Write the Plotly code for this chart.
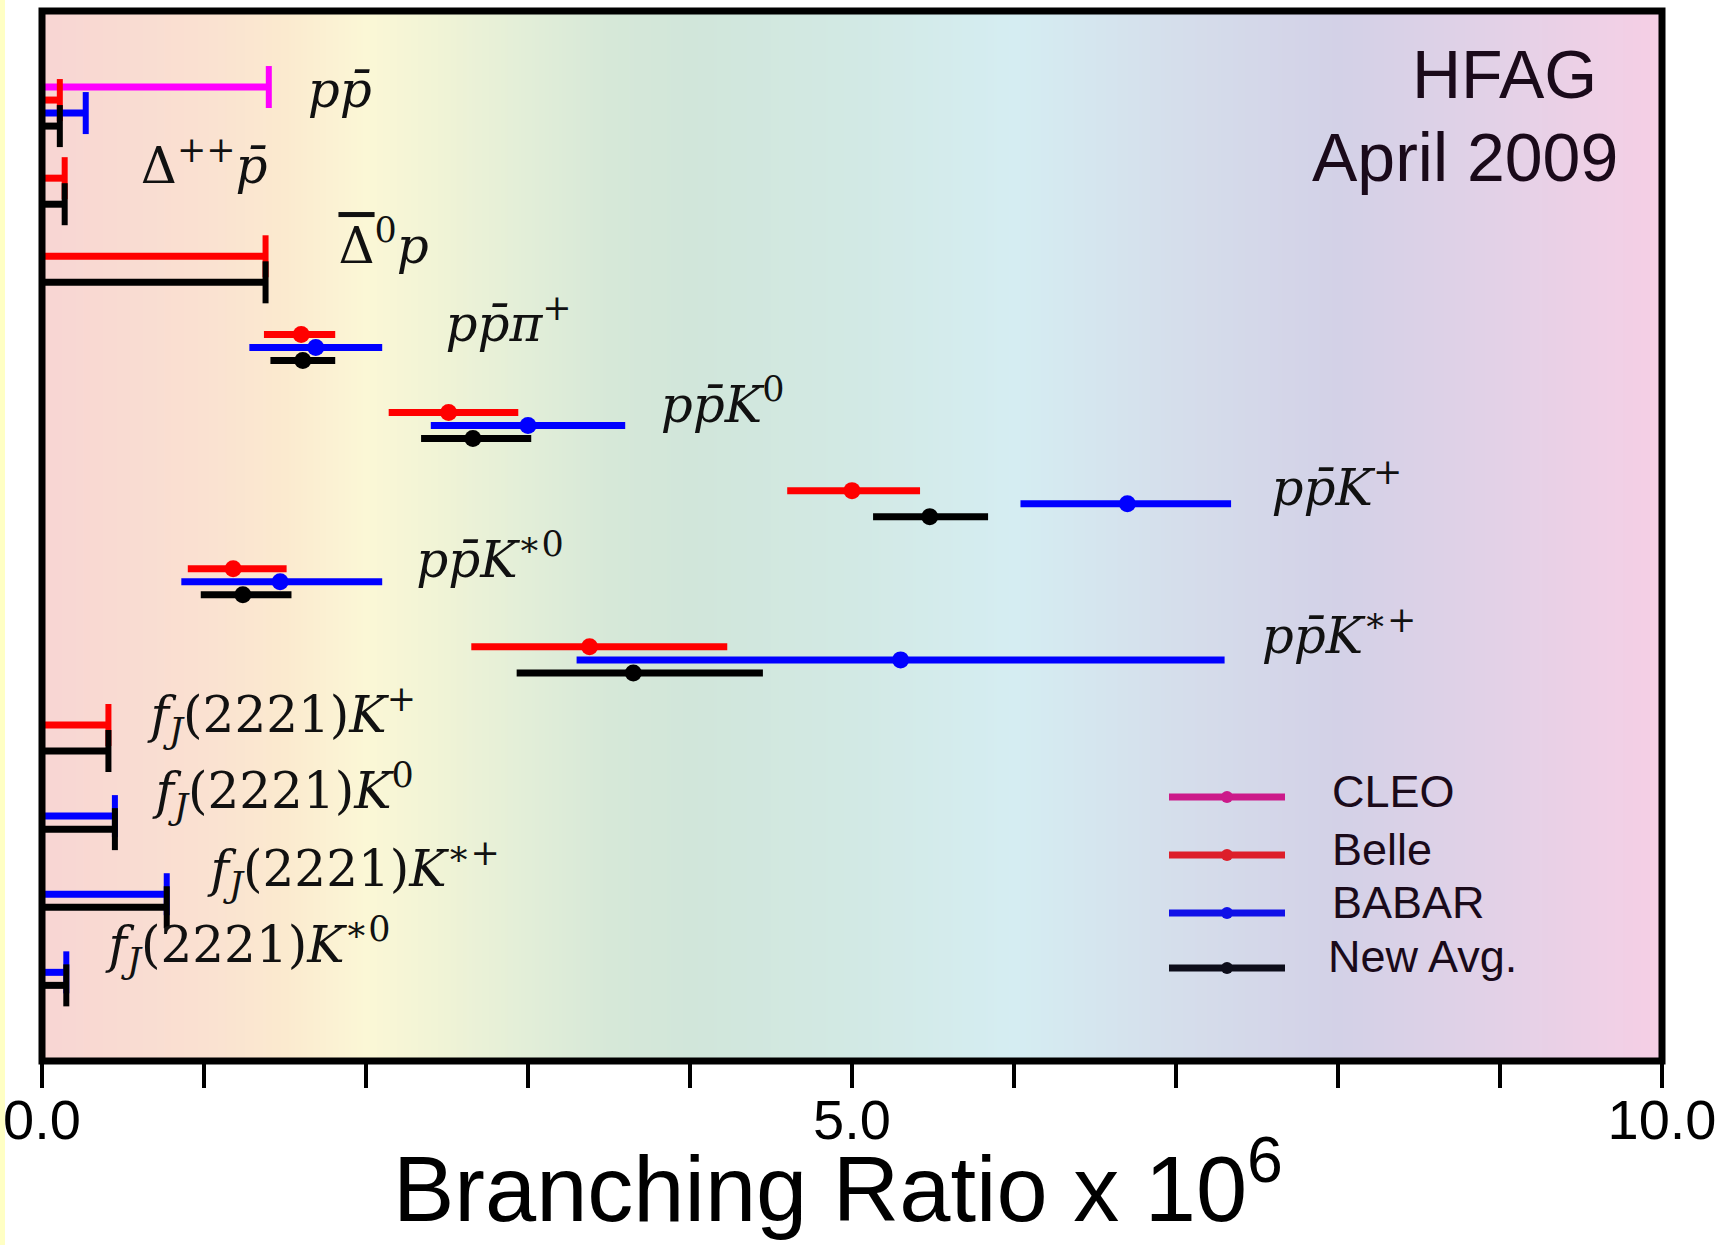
import numpy as np
import plotly.graph_objects as go

# ---------------------------------------------------------------- data
PBAR = "p\u0304"
DELTA_BAR = '<span style="text-decoration:overline">Δ</span>'
decay_labels = [
    f"<i>p{PBAR}</i>",
    f"Δ<sup>++</sup><i>{PBAR}</i>",
    f"{DELTA_BAR}<sup>0</sup><i>p</i>",
    f"<i>p{PBAR}π</i><sup>+</sup>",
    f"<i>p{PBAR}K</i><sup>0</sup>",
    f"<i>p{PBAR}K</i><sup>+</sup>",
    f"<i>p{PBAR}K</i><sup>∗0</sup>",
    f"<i>p{PBAR}K</i><sup>∗+</sup>",
    "<i>f</i><sub><i>J</i></sub>(2221)<i>K</i><sup>+</sup>",
    "<i>f</i><sub><i>J</i></sub>(2221)<i>K</i><sup>0</sup>",
    "<i>f</i><sub><i>J</i></sub>(2221)<i>K</i><sup>∗+</sup>",
    "<i>f</i><sub><i>J</i></sub>(2221)<i>K</i><sup>∗0</sup>",
]

experiments = ["CLEO", "Belle", "BABAR", "New Avg."]

# upper limits (x 10^-6), None where no limit is quoted
cleo_limit = [1.40, None, None, None, None, None, None, None, None, None, None, None]
belle_limit = [0.11, 0.14, 1.38, None, None, None, None, None, 0.41, None, None, None]
babar_limit = [0.27, None, None, None, None, None, None, None, None, 0.45, 0.77, 0.15]
avg_limit = [0.11, 0.14, 1.38, None, None, None, None, None, 0.41, 0.45, 0.77, 0.15]

# measurements (x 10^-6) with asymmetric total errors
belle_value = [None, None, None, 1.60, 2.51, 5.00, 1.18, 3.38, None, None, None, None]
belle_err_lo = [None, None, None, 0.23, 0.37, 0.40, 0.28, 0.73, None, None, None, None]
belle_err_hi = [None, None, None, 0.21, 0.43, 0.42, 0.33, 0.85, None, None, None, None]

babar_value = [None, None, None, 1.69, 3.00, 6.70, 1.47, 5.30, None, None, None, None]
babar_err_lo = [None, None, None, 0.41, 0.60, 0.66, 0.61, 2.00, None, None, None, None]
babar_err_hi = [None, None, None, 0.41, 0.60, 0.64, 0.63, 2.00, None, None, None, None]

avg_value = [None, None, None, 1.61, 2.66, 5.48, 1.24, 3.65, None, None, None, None]
avg_err_lo = [None, None, None, 0.20, 0.32, 0.35, 0.26, 0.72, None, None, None, None]
avg_err_hi = [None, None, None, 0.20, 0.36, 0.36, 0.30, 0.80, None, None, None, None]

x_tick_values = [0, 1, 2, 3, 4, 5, 6, 7, 8, 9, 10]
x_tick_text = ["0.0", "", "", "", "", "5.0", "", "", "", "", "10.0"]

# ---------------------------------------------------------------- placement / style
SLOTS_PER_DECAY = 6          # CLEO, Belle, BABAR, Avg + spacing rows
Y_RANGE = [74.81, -5.84]
label_x = [1.64, 0.61, 1.83, 2.49, 3.82, 7.59, 2.31, 7.53, 0.67, 0.70, 1.04, 0.41]
label_slot = [0.58, 6.42, 12.56, 18.55, 24.77, 31.15, 36.68, 42.52, 48.58, 54.42, 60.41, 66.25]

plot_colors = ["#FF00FF", "#FF0000", "#0000FF", "#000000"]
key_colors = ["#CC1A8A", "#DD1E2A", "#1010E8", "#0D0D1A"]
BAR_W = 7
LABEL_FONT = dict(family="DejaVu Serif", size=50, color="#111111")
SANS = "Liberation Sans"

W, H = 1736, 1245
M_L, M_R, M_T, M_B = 42, 74, 11, 184
PW, PH = W - M_L - M_R, H - M_T - M_B


def px_x(px):
    return (px - M_L) / PW


def px_y(py):
    return (H - M_B - py) / PH


def slot(decay_idx, exp_idx):
    return SLOTS_PER_DECAY * decay_idx + exp_idx


fig = go.Figure()

# pastel spectrum behind the plot
bg_x = np.linspace(0, 10, 201)
bg_scale = [
    [0.00, "#F8D5D3"], [0.10, "#FAE1D1"], [0.15, "#FBEACF"], [0.20, "#FBF7D6"],
    [0.25, "#EFF3D6"], [0.30, "#E2EED8"], [0.35, "#D6E8D8"], [0.40, "#D1E6DA"],
    [0.50, "#D2E9E4"], [0.60, "#D5EDF2"], [0.70, "#D5DEEB"], [0.80, "#D3D1E7"],
    [0.90, "#E3D1E7"], [1.00, "#F6CFE5"],
]
fig.add_trace(go.Heatmap(
    x=bg_x, y=[Y_RANGE[1] - 2, Y_RANGE[0] + 2], z=[bg_x, bg_x],
    colorscale=bg_scale, zmin=0, zmax=10, zsmooth="best",
    showscale=False, hoverinfo="skip",
))

limits = [cleo_limit, belle_limit, babar_limit, avg_limit]
values = [None, belle_value, babar_value, avg_value]
errs_lo = [None, belle_err_lo, babar_err_lo, avg_err_lo]
errs_hi = [None, belle_err_hi, babar_err_hi, avg_err_hi]

for k, name in enumerate(experiments):
    col = plot_colors[k]
    # upper limits: bar from zero with a cap at the limit
    idx = [g for g, v in enumerate(limits[k]) if v is not None]
    if idx:
        xs = [limits[k][g] for g in idx]
        fig.add_trace(go.Scatter(
            x=xs, y=[slot(g, k) for g in idx], mode="markers", name=name,
            marker=dict(symbol="line-ns", size=30, color=col, line=dict(width=6, color=col)),
            error_x=dict(type="data", symmetric=False, array=[0] * len(xs), arrayminus=xs,
                         width=0, thickness=BAR_W, color=col),
            showlegend=False,
        ))
    # measurements with error bars
    if values[k] is not None:
        idx = [g for g, v in enumerate(values[k]) if v is not None]
        fig.add_trace(go.Scatter(
            x=[values[k][g] for g in idx], y=[slot(g, k) for g in idx],
            mode="markers", name=name,
            marker=dict(symbol="circle", size=17, color=col),
            error_x=dict(type="data", symmetric=False,
                         array=[errs_hi[k][g] for g in idx],
                         arrayminus=[errs_lo[k][g] for g in idx],
                         width=0, thickness=BAR_W, color=col),
            showlegend=False,
        ))

# decay mode labels
fig.add_trace(go.Scatter(
    x=label_x, y=label_slot, mode="text", text=decay_labels,
    textposition="middle right", textfont=LABEL_FONT,
    hoverinfo="skip", showlegend=False,
))

shapes = [
    # plot frame
    dict(type="rect", xref="paper", yref="paper", x0=0, x1=1, y0=0, y1=1,
         line=dict(color="black", width=7), fillcolor="rgba(0,0,0,0)", layer="above"),
    # thin yellow strip at the page's left edge
    dict(type="rect", xref="paper", yref="paper", x0=px_x(0), x1=px_x(5),
         y0=px_y(H), y1=px_y(0), line=dict(width=0), fillcolor="#FFFFC4", layer="below"),
]

annotations = [
    dict(text="HFAG", x=px_x(1504), y=px_y(74), xref="paper", yref="paper",
         xanchor="center", yanchor="middle", showarrow=False,
         font=dict(family=SANS, size=68, color="#1A0A1A")),
    dict(text="April 2009", x=px_x(1465), y=px_y(157), xref="paper", yref="paper",
         xanchor="center", yanchor="middle", showarrow=False,
         font=dict(family=SANS, size=68, color="#1A0A1A")),
    dict(text="Branching Ratio x 10<sup>6</sup>", x=px_x(838), y=px_y(1182),
         xref="paper", yref="paper", xanchor="center", yanchor="middle",
         showarrow=False, font=dict(family=SANS, size=92, color="black")),
]

# legend keys
key_y = [797, 855, 913, 968]
key_text_y = [791, 849, 902, 956]
for k, name in enumerate(experiments):
    shapes.append(dict(type="line", xref="paper", yref="paper",
                       x0=px_x(1169), x1=px_x(1285), y0=px_y(key_y[k]), y1=px_y(key_y[k]),
                       line=dict(color=key_colors[k], width=7), layer="above"))
    shapes.append(dict(type="circle", xref="paper", yref="paper",
                       x0=px_x(1221), x1=px_x(1233), y0=px_y(key_y[k] + 6), y1=px_y(key_y[k] - 6),
                       line=dict(width=0), fillcolor=key_colors[k], layer="above"))
    annotations.append(dict(text=name, x=px_x(1330 if k < 3 else 1326), y=px_y(key_text_y[k]),
                            xref="paper", yref="paper", xanchor="left", yanchor="middle",
                            showarrow=False, font=dict(family=SANS, size=45, color="#1A0A1A")))

fig.update_layout(
    width=W, height=H,
    margin=dict(l=M_L, r=M_R, t=M_T, b=M_B, pad=0, autoexpand=False),
    paper_bgcolor="white", plot_bgcolor="white",
    showlegend=False,
    shapes=shapes, annotations=annotations,
    xaxis=dict(range=[0, 10], tickvals=x_tick_values, ticktext=x_tick_text,
               ticks="outside", ticklen=26, tickwidth=4, tickcolor="black",
               ticklabeloverflow="allow", ticklabelstandoff=-16, automargin=False,
               showgrid=False, zeroline=False, showline=False,
               tickfont=dict(family=SANS, size=56, color="black")),
    yaxis=dict(range=Y_RANGE, visible=False, showgrid=False, zeroline=False,
               automargin=False),
)

fig.write_html("out.html")
